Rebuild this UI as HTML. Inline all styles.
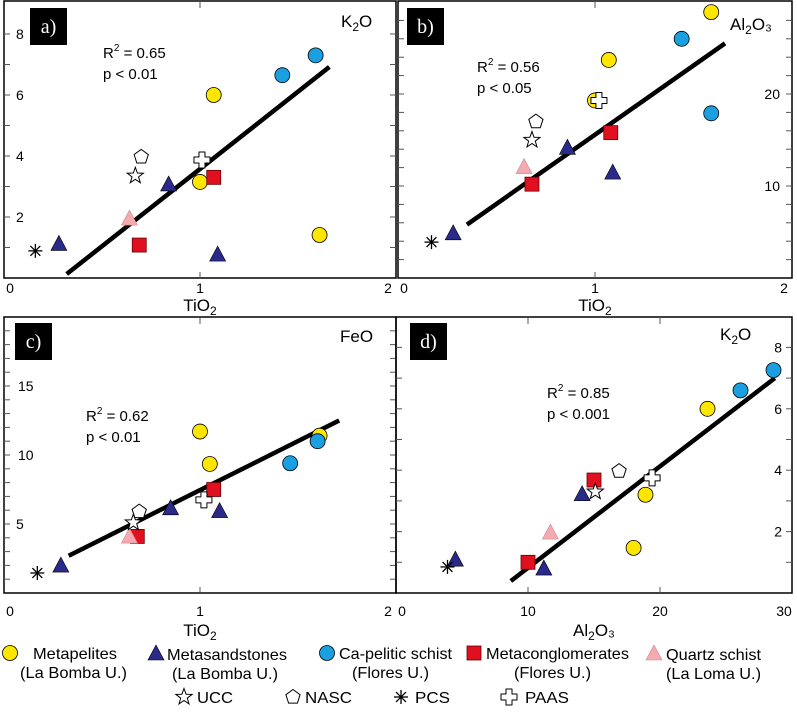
<!DOCTYPE html>
<html><head><meta charset="utf-8"><style>
body{margin:0;background:#fff}
svg{display:block;font-family:"Liberation Sans",sans-serif}
</style></head><body>
<svg id="fig" width="797" height="719" viewBox="0 0 797 719"></svg>
<script>
// Panel a: TiO2 vs K2O
const aX = {met:[1.07,1.0,1.61], sand:[0.28,0.84,1.09], ca:[1.42,1.59], cong:[0.69,1.07], qtz:[0.64], ucc:[0.67], nasc:[0.70], pcs:[0.16], paas:[1.01]};
const aY = {met:[6.0,3.15,1.41], sand:[1.1,3.05,0.75], ca:[6.65,7.3], cong:[1.08,3.3], qtz:[1.93], ucc:[3.35], nasc:[3.97], pcs:[0.89], paas:[3.87]};
const aFit = [[0.32,0.13],[1.66,6.92]];
// Panel b: TiO2 vs Al2O3
const bX = {met:[1.59,1.07,1.0], sand:[0.28,0.86,1.09], ca:[1.44,1.59], cong:[0.68,1.08], qtz:[0.64], ucc:[0.68], nasc:[0.70], pcs:[0.17], paas:[1.02]};
const bY = {met:[28.9,23.7,19.3], sand:[4.8,14.1,11.4], ca:[26.0,17.9], cong:[10.2,15.8], qtz:[12.0], ucc:[15.0], nasc:[17.0], pcs:[3.9], paas:[19.3]};
const bFit = [[0.35,5.8],[1.66,25.5]];
// Panel c: TiO2 vs FeO
const cX = {met:[1.0,1.05,1.61], sand:[0.29,0.85,1.10], ca:[1.46,1.60], cong:[0.68,1.07], qtz:[0.64], ucc:[0.66], nasc:[0.69], pcs:[0.17], paas:[1.02]};
const cY = {met:[11.7,9.35,11.4], sand:[1.95,6.1,5.9], ca:[9.4,11.0], cong:[4.1,7.5], qtz:[4.05], ucc:[5.1], nasc:[5.9], pcs:[1.45], paas:[6.75]};
const cFit = [[0.33,2.7],[1.71,12.5]];
// Panel d: Al2O3 vs K2O
const dX = {met:[23.6,18.9,18.0], sand:[4.5,14.1,11.2], ca:[28.6,26.1], cong:[10.0,15.0], qtz:[11.7], ucc:[15.1], nasc:[16.9], pcs:[3.9], paas:[19.4]};
const dY = {met:[6.0,3.2,1.47], sand:[1.07,3.2,0.78], ca:[7.26,6.6], cong:[1.0,3.68], qtz:[1.95], ucc:[3.3], nasc:[3.97], pcs:[0.85], paas:[3.75]};
const dFit = [[8.7,0.39],[28.7,7.0]];
const aYTicks=[2,4,6,8], bYTicks=[10,20], cYTicks=[5,10,15], dYTicks=[2,4,6,8];
const tiTicks=[0,1,2], alTicks=[0,10,20,30];

const NS="http://www.w3.org/2000/svg";
const svg=document.getElementById('fig');
function mk(tag,attrs,parent){const e=document.createElementNS(NS,tag);for(const k in attrs)e.setAttribute(k,attrs[k]);(parent||svg).appendChild(e);return e;}

const panels=[
 {id:'a',L:4,R:396,T:1,B:278,x0:0,x1:2,y0:0,yPer:30.5,X:aX,Y:aY,fit:aFit,yt:aYTicks,ylab:'left',minor:1,yMax:9,xt:tiTicks,tk:15,tt:33,xlab:'TiO',sub:'2',tail:'',lab:'K',lsub:'2',ltail:'O',lx:341,ly:27,sx:103,sy:58,r2:'0.65',p:'p < 0.01',bx:30,by:8},
 {id:'b',L:398,R:792,T:1,B:278,x0:0,x1:2,y0:0,yPer:9.2,X:bX,Y:bY,fit:bFit,yt:bYTicks,ylab:'right',minor:2,yMax:30,xt:tiTicks,tk:15,tt:33,xlab:'TiO',sub:'2',tail:'',lab:'Al',lsub:'2',ltail:'O₃',lx:730,ly:30,sx:477,sy:72,r2:'0.56',p:'p < 0.05',bx:407,by:8},
 {id:'c',L:4,R:396,T:317,B:593,x0:0,x1:2,y0:0,yPer:13.8,X:cX,Y:cY,fit:cFit,yt:cYTicks,ylab:'left',minor:1,yMax:20,xt:tiTicks,tk:23,tt:43,xlab:'TiO',sub:'2',tail:'',lab:'FeO',lsub:'',ltail:'',lx:340,ly:342,sx:86,sy:421,r2:'0.62',p:'p < 0.01',bx:15,by:323},
 {id:'d',L:396,R:792,T:317,B:593,x0:0,x1:30,y0:0,yPer:30.7,X:dX,Y:dY,fit:dFit,yt:dYTicks,ylab:'right',minor:1,yMax:9,xt:alTicks,tk:23,tt:43,xlab:'Al',sub:'2',tail:'O₃',lab:'K',lsub:'2',ltail:'O',lx:720,ly:340,sx:547,sy:398,r2:'0.85',p:'p < 0.001',bx:410,by:323}
];
const styles={met:'#ffe600',sand:'#2a2a8a',ca:'#1aa0e0',cong:'#e01020',qtz:'#f4aab0'};

function marker(type,x,y,g){
 let e;
 if(type==='met'||type==='ca') e=mk('circle',{cx:x,cy:y,r:7.5,fill:styles[type],stroke:'#000','stroke-width':0.8},g);
 else if(type==='sand'||type==='qtz') e=mk('polygon',{points:`${x},${y-9} ${x+8},${y+6} ${x-8},${y+6}`,fill:styles[type],stroke:type==='qtz'?'#c88':'#000','stroke-width':0.6},g);
 else if(type==='cong') e=mk('rect',{x:x-7,y:y-7,width:14,height:14,fill:styles[type],stroke:'#600','stroke-width':0.8},g);
 else if(type==='ucc'){let p=[];for(let i=0;i<10;i++){const r=i%2?3.5:8.5,a=-Math.PI/2+i*Math.PI/5;p.push((x+r*Math.cos(a)).toFixed(1)+','+(y+r*Math.sin(a)).toFixed(1));}e=mk('polygon',{points:p.join(' '),fill:'#fff',stroke:'#000','stroke-width':1},g);}
 else if(type==='nasc'){let p=[];for(let i=0;i<5;i++){const a=-Math.PI/2+i*2*Math.PI/5;p.push((x+7.5*Math.cos(a)).toFixed(1)+','+(y+7.5*Math.sin(a)).toFixed(1));}e=mk('polygon',{points:p.join(' '),fill:'#fff',stroke:'#000','stroke-width':1},g);}
 else if(type==='pcs'){e=mk('g',{},g);for(let i=0;i<4;i++){const a=i*Math.PI/4;mk('line',{x1:x-7*Math.cos(a),y1:y-7*Math.sin(a),x2:x+7*Math.cos(a),y2:y+7*Math.sin(a),stroke:'#000','stroke-width':1.3},e);}}
 else if(type==='paas'){e=mk('path',{d:`M${x-3},${y-8}h6v5h5v6h-5v5h-6v-5h-5v-6h5z`,fill:'#fff',stroke:'#000','stroke-width':1,'stroke-linejoin':'round'},g);}
 return e;
}

panels.forEach(P=>{
 const g=mk('g',{});
 
 
 const sx=v=>P.L+(v-P.x0)/(P.x1-P.x0)*(P.R-P.L);
 const sy=v=>P.B-(v-P.y0)*P.yPer;
 const fr=mk('rect',{x:P.L,y:P.T,width:P.R-P.L,height:P.B-P.T,fill:'none',stroke:'#000','stroke-width':1.5},g);
 
 
 for(let v=P.minor;v<P.yMax;v+=P.minor){const y=sy(v);if(y<P.T+2)continue;
  mk('line',{x1:P.L,y1:y,x2:P.L+6,y2:y,stroke:'#555','stroke-width':1},g);
  mk('line',{x1:P.R-6,y1:y,x2:P.R,y2:y,stroke:'#555','stroke-width':1},g);}
 P.xt.forEach(v=>{const x=sx(v);if(x<=P.L+2||x>=P.R-2)return;
  mk('line',{x1:x,y1:P.T,x2:x,y2:P.T+7,stroke:'#555','stroke-width':1},g);
  mk('line',{x1:x,y1:P.B-6,x2:x,y2:P.B,stroke:'#555','stroke-width':1},g);});
 P.yt.forEach(v=>{const y=sy(v);
  const t=mk('text',{x:P.ylab==='left'?P.L+(v>=10?14:12):P.R-(v>=10?12:10),y:y+5,'font-size':14,'text-anchor':P.ylab==='left'?'start':'end',fill:'#000'},g);
  t.textContent=v;
  
  });
 P.xt.forEach((v,i)=>{const x=sx(v);
  const t=mk('text',{x:i===0?x+6:(i===P.xt.length-1?x-8:x),y:P.B+P.tk,'font-size':14,'text-anchor':'middle'},g);
  t.textContent=v;
  
  });
 const xt=mk('text',{x:(P.L+P.R)/2,y:P.B+P.tt,'font-size':17,'text-anchor':'middle'},g);
 xt.innerHTML=P.xlab+'<tspan font-size="12" dy="4">'+P.sub+'</tspan><tspan dy="-4">'+P.tail+'</tspan>';
 
 
 const vl=mk('text',{x:P.lx,y:P.ly,'font-size':17},g);
 vl.innerHTML=P.lab+(P.lsub?'<tspan font-size="12" dy="4">'+P.lsub+'</tspan><tspan dy="-4">'+P.ltail+'</tspan>':'');
 
 
 const bx=mk('rect',{x:P.bx,y:P.by,width:37,height:37,fill:'#000'},g);
 
 
 const bt=mk('text',{x:P.bx+18.5,y:P.by+25,'font-size':20,fill:'#fff','text-anchor':'middle','font-family':'Liberation Serif,serif'},g);
 bt.textContent=P.id+')';
 
 
 const s1=mk('text',{x:P.sx,y:P.sy,'font-size':15},g);
 s1.innerHTML='R<tspan font-size="10" dy="-7">2</tspan><tspan dy="7"> = '+P.r2+'</tspan>';
 
 
 const s2=mk('text',{x:P.sx,y:P.sy+21,'font-size':15},g);
 s2.textContent=P.p;
 
 
 const fl=mk('line',{x1:sx(P.fit[0][0]),y1:sy(P.fit[0][1]),x2:sx(P.fit[1][0]),y2:sy(P.fit[1][1]),stroke:'#000','stroke-width':4.5},g);
 
 
 ['met','sand','ca','cong','qtz','ucc','nasc','pcs','paas'].forEach(k=>{
  P.X[k].forEach((xv,i)=>{const m=marker(k,sx(xv),sy(P.Y[k][i]),g);
   
   });
 });
});

const lg=mk('g',{});


const items=[
 {k:'met',mx:10,my:653,t1:'Metapelites',t1x:33,w1:84,t2:'(La Bomba U.)',t2x:20,w2:107},
 {k:'sand',mx:156,my:654,t1:'Metasandstones',t1x:167,w1:120,t2:'(La Bomba U.)',t2x:172,w2:106},
 {k:'ca',mx:327,my:653,t1:'Ca-pelitic schist',t1x:339,w1:113,t2:'(Flores U.)',t2x:352,w2:77},
 {k:'cong',mx:474,my:653,t1:'Metaconglomerates',t1x:486,w1:143,t2:'(Flores U.)',t2x:514,w2:77},
 {k:'qtz',mx:654,my:654,t1:'Quartz schist',t1x:666,w1:95,t2:'(La Loma U.)',t2x:666,w2:95},
 {k:'ucc',mx:184,my:697,t1:'UCC',t1x:197,w1:36},
 {k:'nasc',mx:293,my:697,t1:'NASC',t1x:305,w1:47},
 {k:'pcs',mx:401,my:697,t1:'PCS',t1x:415,w1:35},
 {k:'paas',mx:509,my:697,t1:'PAAS',t1x:525,w1:44}
];
items.forEach(it=>{
 const e=mk('g',{},lg);
 
 
 marker(it.k,it.mx,it.my,e);
 const t=mk('text',{x:it.t1x,y:it.my+6,'font-size':16,textLength:it.w1,lengthAdjust:'spacingAndGlyphs'},e);
 t.textContent=it.t1;
 if(it.t2){const t2=mk('text',{x:it.t2x,y:it.my+25,'font-size':16,textLength:it.w2,lengthAdjust:'spacingAndGlyphs'},e);t2.textContent=it.t2;}
});
</script>
</body></html>
